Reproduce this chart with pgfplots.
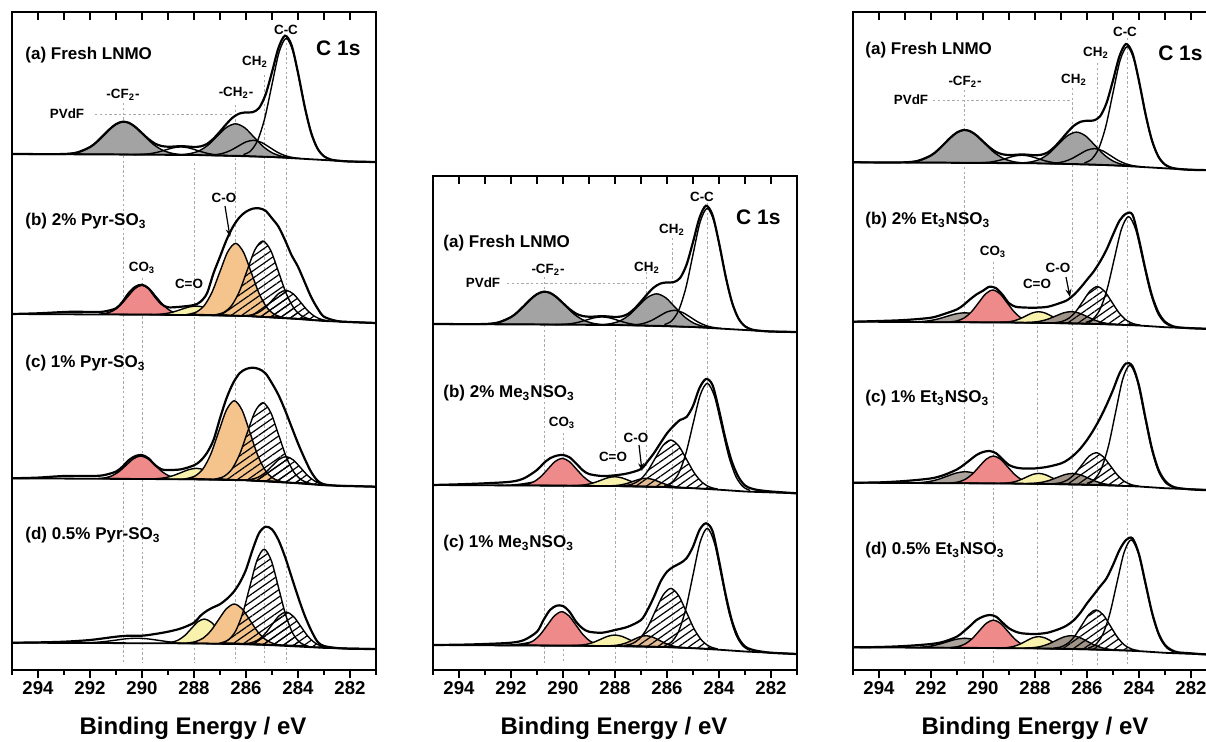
\documentclass[border=0pt]{standalone}
\usepackage{pgfplots}
\pgfplotsset{compat=1.18}
\usepackage{pgfplotstable}
\usepackage{fontspec}
\setmainfont{Liberation Sans}
\usetikzlibrary{patterns.meta,arrows.meta}
\definecolor{pvgray}{RGB}{163,163,163}
\definecolor{pinkc}{RGB}{239,138,138}
\definecolor{yellowc}{RGB}{248,242,172}
\definecolor{orangec}{RGB}{244,196,140}
\definecolor{taupec}{RGB}{170,162,155}
\definecolor{brownc}{RGB}{160,148,136}
\definecolor{midgc}{RGB}{180,160,152}
\definecolor{tanc}{RGB}{226,186,148}
\definecolor{dashc}{RGB}{170,170,170}
\newcommand{\plab}{\bfseries\fontsize{8.5}{9.5}\selectfont}
\newcommand{\klab}{\bfseries\fontsize{6.7}{7.5}\selectfont}
\newcommand{\clab}{\bfseries\fontsize{10.5}{12}\selectfont}
\newcommand{\xlab}{\bfseries\fontsize{12}{14}\selectfont}
\tikzset{dl/.style={dashc,line width=0.45pt,dash pattern=on 1.2pt off 1.2pt},
  pvd/.style={dashc,line width=0.45pt,dash pattern=on 1.2pt off 1.2pt},
  arr/.style={-{Stealth[length=4pt,width=3pt]},line width=0.6pt}}
\pgfplotsset{
  frame/.style={x=13pt,y=0.5pt,xmin=281,xmax=295,x dir=reverse,ymin=0,
    anchor=south west,clip=false,axis line style={line width=1pt},
    xtick={282,284,...,294},minor xtick={281,283,...,295},ytick=\empty,
    xtick pos=left,tick align=outside,major tick length=4pt,minor tick length=2.5pt,
    tick style={black,line width=0.8pt},
    xticklabel style={font=\bfseries\fontsize{9.3}{10}\selectfont,inner sep=1.5pt},
    /pgf/number format/assume math mode=true},
  spec/.style={x=13pt,y=0.5pt,xmin=281,xmax=295,x dir=reverse,ymin=-12,ymax=130,
    hide axis,anchor=south west,clip=false},
  comp/.style={smooth,line width=0.7pt,draw=black},
  env/.style={smooth,line width=1.1pt,draw=black},
  base/.style={line width=0.9pt,draw=black},
  hatch/.style={pattern={Lines[angle=35,distance=3pt,line width=0.6pt]}},
}
% ---- Fresh LNMO spectrum (a), heights in px above left baseline
\pgfplotstableread{
E y
292.95 0.1
292.575 1.1
292.2 4.1
291.825 10.25
291.45 19.5
291.075 28.5
290.7 32.4
290.325 28.4
289.95 19.3
289.575 9.9
289.2 3.7
288.825 0.6
288.45 -0.6
}\aCF
\pgfplotstableread{
E y
290.3 -0.58
290.0 -0.36
289.7 0.32
289.4 1.8
289.1 4.0
288.8 6.2
288.5 7.1
288.2 6.1
287.9 3.8
287.6 1.4
287.3 -0.27
287.0 -1.15
286.7 -1.56
}\aPtwo
\pgfplotstableread{
E y
288.5 -0.57
288.15 0.42
287.8 3.2
287.45 9.1
287.1 18.0
286.75 26.6
286.4 30.2
286.05 26.3
285.7 17.1
285.35 7.7
285.0 1.3
284.65 -2.1
284.3 -3.7
}\aCH
\pgfplotstableread{
E y
287.5 -1.07
287.2 -0.7
286.9 0.6
286.6 3.5
286.3 7.85
286.0 12.1
285.7 13.7
285.4 11.5
285.1 6.8
284.8 1.9
284.5 -1.6
284.2 -3.5
283.9 -4.5
}\aPfour
\pgfplotstableread{
E y
286.1 -0.6
285.825 3.0
285.55 13.75
285.275 36.1
285.0 69.5
284.725 102.1
284.45 115.7
284.175 101.25
283.9 67.85
283.625 33.7
283.35 10.7
283.075 -0.6
282.8 -5.0
}\aCC
\pgfplotstableread{
E y
295 0
288 -1
286 -2
285 -3
284 -4.5
283 -6
282 -7.5
281 -8
}\aBase
\pgfplotstableread{
E y
295 0
294 -0.1
293 0
292.5 1.5
292 6.9
291.75 11.9
291.5 18.2
291.25 24.7
291 29.9
290.75 32.3
290.5 31.2
290.25 26.9
290 20.9
289.75 15.0
289.5 10.4
289.25 8.0
289 7.3
288.75 7.5
288.5 7.9
288.25 7.5
288 7.05
287.75 7.6
287.5 10.05
287.25 15.4
287 22.5
286.75 30.1
286.5 36.7
286.25 40.5
286 41.6
285.75 41.8
285.5 45.9
285.25 59.2
285 81.9
284.75 106.2
284.5 118.3
284.25 109.0
284 81.3
283.75 48.3
283.5 21.7
283.25 5.5
283 -2.3
282.75 -5.4
282.5 -6.55
282 -7.5
281 -8
}\aEnv
\begin{document}
\begin{tikzpicture}
\useasboundingbox (0,0) rectangle (603pt,-370.5pt);
\clip (0,0) rectangle (603pt,-370.5pt);
% ================= LEFT COLUMN =================
\begin{axis}[frame,at={(6pt,-335pt)},ymax=658]
\draw[dl] (axis cs:290.7,567) -- (axis cs:290.7,7);
\draw[dl] (axis cs:290.0,392) -- (axis cs:290.0,7);
\draw[dl] (axis cs:288.0,507) -- (axis cs:288.0,7);
\draw[dl] (axis cs:286.4,565) -- (axis cs:286.4,7);
\draw[dl] (axis cs:285.3,595) -- (axis cs:285.3,7);
\draw[dl] (axis cs:284.45,632) -- (axis cs:284.45,7);
\pgfplotsinvokeforeach{282,...,294}{\draw[line width=0.8pt] (axis cs:#1,658) -- ++(0pt,-4pt);}
\end{axis}
% (a)
\begin{axis}[spec,at={(6pt,-83pt)}]
\addplot[comp,fill=pvgray] table {\aCF} -- cycle;
\addplot[comp,fill=pvgray] table {\aCH} -- cycle;
\addplot[comp] table {\aPtwo};
\addplot[comp] table {\aPfour};
\addplot[comp] table {\aCC};
\addplot[base] table {\aBase};
\addplot[env] table {\aEnv};
\end{axis}
% (b) 2% Pyr-SO3
\begin{axis}[spec,at={(6pt,-163pt)}]
\addplot[comp,fill=pinkc] coordinates {(291.65,-0.15)(291.375,0.78)(291.1,3.4)(290.825,9.0)(290.55,17.3)(290.275,25.3)(290.0,28.8)(289.725,25.25)(289.45,17.1)(289.175,8.75)(288.9,3.1)(288.625,0.39)(288.35,-0.62)} -- cycle;
\addplot[comp,fill=yellowc] coordinates {(289.7,-0.66)(289.4,-0.4)(289.1,0.38)(288.8,2.0)(288.5,4.5)(288.2,7.0)(287.9,7.95)(287.6,6.7)(287.3,4.1)(287.0,1.4)(286.7,-0.4)(286.4,-1.4)(286.1,-1.85)} -- cycle;
\addplot[comp,fill=orangec] coordinates {(288.2,-0.17)(287.9,2.1)(287.6,8.6)(287.3,22.2)(287.0,42.5)(286.7,62.3)(286.4,70.7)(286.1,62.0)(285.8,41.7)(285.5,20.8)(285.2,6.6)(284.9,-0.47)(284.6,-3.3)} -- cycle;
\addplot[comp,hatch] coordinates {(287.15,-0.6)(286.85,1.76)(286.55,8.55)(286.25,22.8)(285.95,44.0)(285.65,64.5)(285.35,73.0)(285.05,63.6)(284.75,42.2)(284.45,20.35)(284.15,5.5)(283.85,-1.96)(283.55,-5.06)} -- cycle;
\addplot[comp,hatch] coordinates {(286.1,-1.64)(285.825,-1.03)(285.55,1.1)(285.275,6.0)(285.0,13.5)(284.725,20.8)(284.45,23.7)(284.175,20.0)(283.9,11.8)(283.625,3.3)(283.35,-2.5)(283.075,-5.6)(282.8,-6.9)} -- cycle;
\addplot[base] coordinates {(295,0)(288,-1)(286,-2)(285,-3.5)(284,-5)(283,-7)(281,-9)};
\addplot[env] coordinates {(295,0)(294,0.7)(293,2)(292.5,2.3)(292,2)(291.5,2.3)(291,5.7)(290.75,12.3)(290.5,21.3)(290.25,27.3)(290,29.3)(289.75,25.7)(289.5,17.3)(289.25,10)(289,6.7)(288.5,7.3)(288,9)(287.75,12.3)(287.5,20.7)(287.25,40.7)(287,57.3)(286.75,74)(286.5,87.3)(286.25,96.7)(286,102.3)(285.75,105.3)(285.5,105.7)(285.25,103.3)(285,95.7)(284.75,87.3)(284.5,74)(284.25,59)(284,47.3)(283.75,32.3)(283.5,17.3)(283.25,5.7)(283,-2.7)(282.5,-7)(282,-8)(281,-9)};
\end{axis}
% (c) 1% Pyr-SO3
\begin{axis}[spec,at={(6pt,-245.15pt)}]
\addplot[comp,fill=pinkc] coordinates {(291.7,-0.21)(291.425,0.5)(291.15,2.56)(290.875,6.9)(290.6,13.3)(290.325,19.6)(290.05,22.3)(289.775,19.55)(289.5,13.2)(289.225,6.6)(288.95,2.25)(288.675,0.1)(288.4,-0.68)} -- cycle;
\addplot[comp,fill=yellowc] coordinates {(289.7,-0.64)(289.4,-0.32)(289.1,0.65)(288.8,2.7)(288.5,5.7)(288.2,8.7)(287.9,9.95)(287.6,8.5)(287.3,5.3)(287.0,2.1)(286.7,-0.16)(286.4,-1.3)(286.1,-1.8)} -- cycle;
\addplot[comp,fill=orangec] coordinates {(288.25,-0.08)(287.95,2.46)(287.65,9.56)(287.35,24.45)(287.05,46.7)(286.75,68.4)(286.45,77.6)(286.15,68.1)(285.85,45.9)(285.55,23.1)(285.25,7.6)(284.95,-0.1)(284.65,-3.15)} -- cycle;
\addplot[comp,hatch] coordinates {(287.15,-0.56)(286.85,1.87)(286.55,8.9)(286.25,23.6)(285.95,45.6)(285.65,66.8)(285.35,75.6)(285.05,65.9)(284.75,43.8)(284.45,21.2)(284.15,5.85)(283.85,-1.85)(283.55,-5.0)} -- cycle;
\addplot[comp,hatch] coordinates {(286.1,-1.66)(285.825,-1.12)(285.55,0.84)(285.275,5.3)(285.0,12.3)(284.725,19.0)(284.45,21.7)(284.175,18.2)(283.9,10.6)(283.625,2.7)(283.35,-2.8)(283.075,-5.7)(282.8,-6.85)} -- cycle;
\addplot[base] coordinates {(295,0)(288,-1)(286,-2)(285,-3.5)(284,-5)(283,-7)(281,-8.4)};
\addplot[env] coordinates {(295,0)(294,0.7)(293,2.3)(292,2.3)(291.5,3)(291,6.7)(290.75,11.7)(290.5,18.3)(290.25,22.3)(290,23.3)(289.75,20)(289.5,13.3)(289.25,9)(289,8.3)(288.5,9)(288,13)(287.75,17.5)(287.5,25.5)(287.25,38.3)(287,60)(286.75,80)(286.5,95)(286.25,105)(286,109.3)(285.75,110.6)(285.5,109.3)(285.25,105)(285,95)(284.75,83.3)(284.5,68.3)(284.25,51.6)(284,35)(283.75,20)(283.5,6.7)(283.25,-2.3)(283,-6)(282.5,-7.4)(282,-7.7)(281,-8.4)};
\end{axis}
% (d) 0.5% Pyr-SO3
\begin{axis}[spec,at={(6pt,-327.35pt)}]
\addplot[comp] coordinates {(292.6,-0.18)(292.2,-0.06)(291.8,0.36)(291.4,1.26)(291.0,2.6)(290.6,3.97)(290.2,4.5)(289.8,3.9)(289.4,2.5)(289.0,1.0)(288.6,0.04)(288.2,-0.5)(287.8,-0.72)};
\addplot[comp,fill=yellowc] coordinates {(289.1,-0.32)(288.85,0.47)(288.6,2.69)(288.35,7.3)(288.1,14.2)(287.85,20.95)(287.6,23.7)(287.35,20.75)(287.1,13.9)(286.85,6.8)(286.6,2.1)(286.35,-0.28)(286.1,-1.19)} -- cycle;
\addplot[comp,fill=orangec] coordinates {(288.25,-0.24)(287.95,1.04)(287.65,4.57)(287.35,12.0)(287.05,23.2)(286.75,34.1)(286.45,38.7)(286.15,33.9)(285.85,22.6)(285.55,11.0)(285.25,3.2)(284.95,-0.8)(284.65,-2.5)} -- cycle;
\addplot[comp,hatch] coordinates {(286.95,-0.06)(286.675,2.97)(286.4,11.6)(286.125,29.6)(285.85,56.4)(285.575,82.5)(285.3,93.5)(285.025,82.0)(284.75,55.2)(284.475,27.9)(284.2,9.4)(283.925,0.3)(283.65,-3.2)} -- cycle;
\addplot[comp,hatch] coordinates {(286.1,-1.0)(285.825,-0.2)(285.55,2.6)(285.275,8.7)(285.0,18.0)(284.725,27.0)(284.45,30.6)(284.175,26.3)(283.9,16.6)(283.625,6.6)(283.35,-0.13)(283.075,-3.6)(282.8,-4.9)} -- cycle;
\addplot[base] coordinates {(295,0)(288,-0.7)(286,-1.5)(285,-2.5)(284,-3.8)(283,-5.2)(281,-6.3)};
\addplot[env] coordinates {(295,0)(294,0.3)(293,1)(292,2.7)(291,6)(290.5,7)(290,7)(289.5,8.7)(289,11)(288.5,14.3)(288,20)(287.75,27)(287.5,32)(287.25,35.5)(287,38.5)(286.75,43.5)(286.5,50)(286.25,59.5)(286,73)(285.75,92.7)(285.5,109.5)(285.25,116)(285,113.3)(284.75,102.7)(284.5,86)(284.25,66)(284,46)(283.75,27.7)(283.5,12.7)(283.25,1)(283,-3.3)(282.5,-5.3)(282,-6)(281,-6.3)};
\end{axis}
% ================= MIDDLE COLUMN =================
\begin{axis}[frame,at={(216.5pt,-335pt)},ymax=494]
\draw[dl] (axis cs:290.7,393) -- (axis cs:290.7,7);
\draw[dl] (axis cs:290.0,237) -- (axis cs:290.0,7);
\draw[dl] (axis cs:288.0,340) -- (axis cs:288.0,7);
\draw[dl] (axis cs:286.8,398) -- (axis cs:286.8,7);
\draw[dl] (axis cs:285.8,432) -- (axis cs:285.8,7);
\draw[dl] (axis cs:284.45,467) -- (axis cs:284.45,7);
\pgfplotsinvokeforeach{282,...,294}{\draw[line width=0.8pt] (axis cs:#1,494) -- ++(0pt,-4pt);}
\end{axis}
\begin{axis}[spec,at={(216.5pt,-168pt)}]
\addplot[comp,fill=pvgray] table {\aCF} -- cycle;
\addplot[comp,fill=pvgray] table {\aCH} -- cycle;
\addplot[comp] table {\aPtwo};
\addplot[comp] table {\aPfour};
\addplot[comp] table {\aCC};
\addplot[base] table {\aBase};
\addplot[env] table {\aEnv};
\end{axis}
% (b) 2% Me3NSO3
\begin{axis}[spec,at={(216.5pt,-248.5pt)}]
\addplot[comp,fill=midgc] coordinates {(292.5,-0.31)(292.2,-0.2)(291.9,0.17)(291.6,0.97)(291.3,2.2)(291.0,3.4)(290.7,3.9)(290.4,3.3)(290.1,2.0)(289.8,0.72)(289.5,-0.18)(289.2,-0.63)(288.9,-0.82)} -- cycle;
\addplot[comp,fill=pinkc] coordinates {(291.68,-0.17)(291.405,0.69)(291.13,3.16)(290.855,8.3)(290.58,16.0)(290.305,23.5)(290.03,26.7)(289.755,23.4)(289.48,15.8)(289.205,8.1)(288.93,2.84)(288.655,0.29)(288.38,-0.65)} -- cycle;
\addplot[comp,fill=yellowc] coordinates {(289.65,-0.66)(289.375,-0.39)(289.1,0.42)(288.825,2.14)(288.55,4.7)(288.275,7.25)(288.0,8.3)(287.725,7.07)(287.45,4.36)(287.175,1.6)(286.9,-0.29)(286.625,-1.28)(286.35,-1.73)} -- cycle;
\addplot[comp,fill=tanc] coordinates {(288.3,-0.87)(288.05,-0.63)(287.8,0.02)(287.55,1.46)(287.3,3.68)(287.05,5.84)(286.8,6.7)(286.55,5.6)(286.3,3.18)(286.05,0.71)(285.8,-1.12)(285.55,-2.18)(285.3,-2.75)} -- cycle;
\addplot[comp,hatch] coordinates {(287.65,-0.66)(287.35,0.74)(287.05,4.9)(286.75,13.7)(286.45,26.85)(286.15,39.7)(285.85,45.0)(285.55,39.1)(285.25,25.7)(284.95,12.05)(284.65,2.66)(284.35,-2.1)(284.05,-4.1)} -- cycle;
\addplot[comp] coordinates {(286.1,-0.78)(285.825,2.43)(285.55,11.76)(285.275,31.45)(285.0,60.9)(284.725,89.7)(284.45,101.7)(284.175,88.8)(283.9,59.2)(283.625,28.9)(283.35,8.4)(283.075,-1.7)(282.8,-5.5)};
\addplot[base] coordinates {(295,0)(288,-1)(286,-2)(285,-3.2)(284,-4.7)(283,-6.5)(281,-8.3)};
\addplot[env] coordinates {(295,0)(294,0.7)(293,1.7)(292,3.3)(291.5,6.7)(291,15)(290.75,21.7)(290.5,26.7)(290.25,29.3)(290,30)(289.75,27.7)(289.5,21.7)(289.25,15)(289,11)(288.5,9)(288,9.7)(287.5,11.7)(287,16)(286.75,23.5)(286.5,32)(286.25,42)(286,51.7)(285.75,59)(285.5,65)(285.25,68)(285,79)(284.75,97)(284.5,106)(284.25,100)(284,75)(283.75,46)(283.5,23)(283.25,8)(283,-0.5)(282.75,-3.5)(282.5,-5)(282,-6.5)(281,-8.3)};
\end{axis}
% (c) 1% Me3NSO3
\begin{axis}[spec,at={(216.5pt,-328.5pt)}]
\addplot[comp,fill=midgc] coordinates {(292.5,-0.3)(292.2,-0.18)(291.9,0.24)(291.6,1.13)(291.3,2.5)(291.0,3.84)(290.7,4.39)(290.4,3.75)(290.1,2.33)(289.8,0.88)(289.5,-0.11)(289.2,-0.61)(288.9,-0.81)} -- cycle;
\addplot[comp,fill=pinkc] coordinates {(291.7,-0.09)(291.425,0.98)(291.15,4.05)(290.875,10.45)(290.6,20.0)(290.325,29.3)(290.05,33.3)(289.775,29.25)(289.5,19.8)(289.225,10.2)(288.95,3.74)(288.675,0.59)(288.4,-0.56)} -- cycle;
\addplot[comp,fill=yellowc] coordinates {(289.65,-0.64)(289.375,-0.32)(289.1,0.65)(288.825,2.69)(288.55,5.75)(288.275,8.75)(288.0,10)(287.725,8.57)(287.45,5.39)(287.175,2.16)(286.9,-0.06)(286.625,-1.21)(286.35,-1.71)} -- cycle;
\addplot[comp,fill=tanc] coordinates {(288.3,-0.84)(288.05,-0.51)(287.8,0.37)(287.55,2.31)(287.3,5.26)(287.05,8.14)(286.8,9.3)(286.55,7.89)(286.3,4.76)(286.05,1.56)(285.8,-0.77)(285.55,-2.06)(285.3,-2.72)} -- cycle;
\addplot[comp,hatch] coordinates {(287.65,-0.53)(287.35,1.25)(287.05,6.48)(286.75,17.46)(286.45,33.9)(286.15,49.96)(285.85,56.6)(285.55,49.35)(285.25,32.76)(284.95,15.8)(284.65,4.23)(284.35,-1.6)(284.05,-3.98)} -- cycle;
\addplot[comp] coordinates {(286.1,-0.61)(285.825,3.09)(285.55,13.8)(285.275,36.3)(285.0,70.0)(284.725,102.9)(284.45,116.7)(284.175,102.05)(283.9,68.3)(283.625,33.8)(283.35,10.46)(283.075,-1.1)(282.8,-5.4)};
\addplot[base] coordinates {(295,0)(288,-1)(286,-2)(285,-3.2)(284,-4.7)(283,-6.5)(281,-9)};
\addplot[env] coordinates {(295,0)(294,0.3)(293,1)(292,2.3)(291.5,5)(291,13.3)(290.75,25)(290.5,35)(290.25,39.3)(290,39)(289.75,33.3)(289.5,23.3)(289.25,16.7)(289,13.3)(288.5,12.3)(288,15)(287.5,18.3)(287,25)(286.75,35)(286.5,48.3)(286.25,63.3)(286,73.3)(285.75,78.3)(285.5,81.7)(285.25,86.7)(285,98.3)(284.75,115)(284.5,121.7)(284.25,114)(284,84.5)(283.75,51)(283.5,24)(283.25,7)(283,-1.5)(282.75,-4.5)(282.5,-6)(282,-7.75)(281,-9)};
\end{axis}
% ================= RIGHT COLUMN =================
\begin{axis}[frame,at={(426.5pt,-335pt)},ymax=658]
\draw[dl] (axis cs:290.7,580) -- (axis cs:290.7,5);
\draw[dl] (axis cs:289.6,408) -- (axis cs:289.6,5);
\draw[dl] (axis cs:287.9,378) -- (axis cs:287.9,5);
\draw[dl] (axis cs:286.55,582) -- (axis cs:286.55,5);
\draw[dl] (axis cs:285.6,607) -- (axis cs:285.6,5);
\draw[dl] (axis cs:284.45,632) -- (axis cs:284.45,5);
\pgfplotsinvokeforeach{282,...,294}{\draw[line width=0.8pt] (axis cs:#1,658) -- ++(0pt,-4pt);}
\end{axis}
\begin{axis}[spec,at={(426.5pt,-87.15pt)}]
\addplot[comp,fill=pvgray] table {\aCF} -- cycle;
\addplot[comp,fill=pvgray] table {\aCH} -- cycle;
\addplot[comp] table {\aPtwo};
\addplot[comp] table {\aPfour};
\addplot[comp] table {\aCC};
\addplot[base] table {\aBase};
\addplot[env] table {\aEnv};
\end{axis}
% (b) 2% Et3NSO3
\begin{axis}[spec,at={(426.5pt,-166.85pt)}]
\addplot[comp,fill=taupec] coordinates {(292.8,-0.2)(292.45,0.06)(292.1,0.88)(291.75,2.62)(291.4,5.25)(291.05,7.82)(290.7,8.89)(290.35,7.72)(290.0,5.05)(289.65,2.32)(289.3,0.48)(288.95,-0.44)(288.6,-0.8)} -- cycle;
\addplot[comp,fill=pinkc] coordinates {(291.27,-0.17)(290.995,0.86)(290.72,3.79)(290.445,9.9)(290.17,19.0)(289.895,27.95)(289.62,31.7)(289.345,27.87)(289.07,18.86)(288.795,9.66)(288.52,3.47)(288.245,0.47)(287.97,-0.66)} -- cycle;
\addplot[comp,fill=yellowc] coordinates {(289.35,-0.69)(289.1,-0.35)(288.85,0.62)(288.6,2.69)(288.35,5.78)(288.1,8.81)(287.85,10.0)(287.6,8.6)(287.35,5.4)(287.1,2.15)(286.85,-0.08)(286.6,-1.21)(286.35,-1.71)} -- cycle;
\addplot[comp,fill=brownc] coordinates {(288.4,-0.81)(288.1,-0.47)(287.8,0.5)(287.5,2.58)(287.2,5.76)(286.9,8.86)(286.6,10.1)(286.3,8.56)(286.0,5.16)(285.7,1.59)(285.4,-0.88)(285.1,-2.2)(284.8,-2.87)} -- cycle;
\addplot[comp,hatch] coordinates {(287.25,-0.96)(286.975,0.13)(286.7,3.41)(286.425,10.35)(286.15,20.75)(285.875,30.9)(285.6,35.1)(285.325,30.46)(285.05,19.92)(284.775,9.11)(284.5,1.76)(284.225,-1.94)(283.95,-3.47)} -- cycle;
\addplot[comp] coordinates {(286.05,-0.76)(285.775,2.58)(285.5,12.28)(285.225,32.6)(284.95,62.95)(284.675,92.6)(284.4,105.1)(284.125,92.07)(283.85,61.74)(283.575,30.7)(283.3,9.69)(283.025,-0.7)(282.75,-4.55)};
\addplot[base] coordinates {(295,0)(288,-1)(286,-2)(285,-2.8)(284,-3.8)(283,-5.5)(281,-7.5)};
\addplot[env] coordinates {(295,0)(294,0.7)(293,1.7)(292,4)(291.5,7.7)(291,12.3)(290.75,16.7)(290.5,22.3)(290.25,27.3)(290,31)(289.75,35)(289.5,33.5)(289.25,27)(289,18.5)(288.75,15)(288.5,14.3)(288,14)(287.5,15)(287,19)(286.75,21.7)(286.5,27)(286.25,34)(286,42)(285.75,50)(285.5,60)(285.25,72)(285,87)(284.75,101)(284.5,108)(284.25,107)(284,82)(283.75,52)(283.5,26)(283.25,9)(283,0)(282.75,-4)(282.5,-5.6)(282,-6.5)(281.5,-7)(281,-7.5)};
\end{axis}
% (c) 1% Et3NSO3
\begin{axis}[spec,at={(426.5pt,-247.35pt)}]
\addplot[comp,fill=taupec] coordinates {(292.78,-0.19)(292.43,0.14)(292.08,1.15)(291.73,3.3)(291.38,6.52)(291.03,9.67)(290.68,10.98)(290.33,9.57)(289.98,6.32)(289.63,3.0)(289.28,0.75)(288.93,-0.36)(288.58,-0.79)} -- cycle;
\addplot[comp,fill=pinkc] coordinates {(291.25,-0.23)(290.975,0.64)(290.7,3.11)(290.425,8.28)(290.15,15.99)(289.875,23.54)(289.6,26.73)(289.325,23.46)(289.05,15.83)(288.775,8.04)(288.5,2.79)(288.225,0.24)(287.95,-0.72)} -- cycle;
\addplot[comp,fill=yellowc] coordinates {(289.35,-0.69)(289.1,-0.38)(288.85,0.53)(288.6,2.47)(288.35,5.36)(288.1,8.19)(287.85,9.32)(287.6,7.98)(287.35,4.98)(287.1,1.93)(286.85,-0.17)(286.6,-1.24)(286.35,-1.71)} -- cycle;
\addplot[comp,fill=brownc] coordinates {(288.35,-0.83)(288.05,-0.52)(287.75,0.36)(287.45,2.29)(287.15,5.24)(286.85,8.13)(286.55,9.27)(286.25,7.83)(285.95,4.63)(285.65,1.29)(285.35,-1.03)(285.05,-2.28)(284.75,-2.93)} -- cycle;
\addplot[comp,hatch] coordinates {(287.3,-0.99)(287.025,-0.07)(286.75,2.74)(286.475,8.73)(286.2,17.69)(285.925,26.44)(285.65,30.02)(285.375,26.0)(285.1,16.87)(284.825,7.51)(284.55,1.12)(284.275,-2.11)(284.0,-3.44)} -- cycle;
\addplot[comp] coordinates {(286.0,-0.66)(285.725,3.09)(285.45,13.93)(285.175,36.63)(284.9,70.49)(284.625,103.6)(284.35,117.55)(284.075,103.05)(283.8,69.25)(283.525,34.68)(283.25,11.29)(282.975,-0.22)(282.7,-4.46)};
\addplot[base] coordinates {(295,0)(288,-1)(286,-2)(285,-2.8)(284,-3.8)(283,-5.5)(281,-7.5)};
\addplot[env] coordinates {(295,0)(294,0.3)(293,1.7)(292,4.3)(291.5,7.7)(291,13.3)(290.75,17.7)(290.5,22.7)(290.25,27.7)(290,30.7)(289.75,31.7)(289.5,29.5)(289.25,23.5)(289,17.7)(288.75,15.3)(288.5,14.3)(288,14.3)(287.5,16)(287,19.3)(286.75,22.7)(286.5,27.7)(286.25,34.3)(286,42.7)(285.75,52.7)(285.5,64.3)(285.25,77.7)(285,92.7)(284.75,109.3)(284.5,119.3)(284.25,116.5)(284,97)(283.75,64.5)(283.5,34)(283.25,13)(283,2)(282.75,-3.3)(282.5,-5.3)(282,-6.7)(281.5,-7.3)(281,-7.5)};
\end{axis}
% (d) 0.5% Et3NSO3
\begin{axis}[spec,at={(426.5pt,-329.65pt)}]
\addplot[comp,fill=taupec] coordinates {(292.8,-0.2)(292.45,0.06)(292.1,0.89)(291.75,2.66)(291.4,5.31)(291.05,7.91)(290.7,8.99)(290.35,7.81)(290.0,5.11)(289.65,2.36)(289.3,0.49)(288.95,-0.44)(288.6,-0.8)} -- cycle;
\addplot[comp,fill=pinkc] coordinates {(291.25,-0.23)(290.975,0.66)(290.7,3.18)(290.425,8.44)(290.15,16.29)(289.875,23.98)(289.6,27.23)(289.325,23.9)(289.05,16.13)(288.775,8.2)(288.5,2.86)(288.225,0.26)(287.95,-0.72)} -- cycle;
\addplot[comp,fill=yellowc] coordinates {(289.35,-0.68)(289.1,-0.32)(288.85,0.72)(288.6,2.92)(288.35,6.21)(288.1,9.42)(287.85,10.72)(287.6,9.21)(287.35,5.83)(287.1,2.38)(286.85,0.02)(286.6,-1.18)(286.35,-1.7)} -- cycle;
\addplot[comp,fill=brownc] coordinates {(288.4,-0.79)(288.1,-0.4)(287.8,0.71)(287.5,3.1)(287.2,6.73)(286.9,10.28)(286.6,11.7)(286.3,9.98)(286.0,6.13)(285.7,2.11)(285.4,-0.67)(285.1,-2.13)(284.8,-2.85)} -- cycle;
\addplot[comp,hatch] coordinates {(287.3,-0.91)(287.025,0.25)(286.75,3.73)(286.475,11.1)(286.2,22.12)(285.925,32.89)(285.65,37.32)(285.375,32.45)(285.1,21.3)(284.825,9.88)(284.55,2.11)(284.275,-1.79)(284.0,-3.36)} -- cycle;
\addplot[comp] coordinates {(285.95,-0.81)(285.675,2.61)(285.4,12.54)(285.125,33.34)(284.85,64.37)(284.575,94.73)(284.3,107.5)(284.025,94.18)(283.75,63.09)(283.475,31.35)(283.2,9.86)(282.925,-0.71)(282.65,-4.62)};
\addplot[base] coordinates {(295,0)(288,-1)(286,-2)(285,-2.8)(284,-3.8)(283,-5.5)(281,-7.5)};
\addplot[env] coordinates {(295,0)(294,0.3)(293,1.3)(292,3.3)(291.5,5.7)(291,10.7)(290.75,15.7)(290.5,21.3)(290.25,27.3)(290,30.7)(289.75,32.3)(289.5,30.7)(289.25,24.7)(289,19)(288.75,15.7)(288.5,14)(288,13.3)(287.5,14.7)(287,19)(286.75,22.3)(286.5,27.3)(286.25,34.7)(286,44)(285.75,52.3)(285.5,60.7)(285.25,69)(285,82.3)(284.75,97.3)(284.5,107.3)(284.25,109)(284,93)(283.75,64)(283.5,35)(283.25,14)(283,2.3)(282.75,-2.7)(282.5,-5)(282,-6)(281.5,-7)(281,-7.5)};
\end{axis}
% ================= LABELS (pixel coordinates) =================
\begin{scope}[x=0.5pt,y=-0.5pt,every node/.style={inner sep=0pt}]
% left
\node[anchor=west] at (25,55) {\plab (a) Fresh LNMO};
\node[anchor=east] at (361,48) {\clab C 1s};
\node at (286,30) {\klab C-C};
\node at (255,62) {\klab CH\textsubscript{2}};
\node at (236,93) {\klab -CH\textsubscript{2}-};
\node at (123,95) {\klab -CF\textsubscript{2}-};
\node at (67,114) {\klab PVdF};
\draw[pvd] (95,114) -- (233,114);
\node[anchor=west] at (25,221) {\plab (b) 2\% Pyr-SO\textsubscript{3}};
\node at (224,198) {\klab C-O};
\draw[arr] (225,206) -- (230,237);
\node at (142,268) {\klab CO\textsubscript{3}};
\node at (189,284) {\klab C=O};
\node[anchor=west] at (25,363) {\plab (c) 1\% Pyr-SO\textsubscript{3}};
\node[anchor=west] at (25,535) {\plab (d) 0.5\% Pyr-SO\textsubscript{3}};
\node at (193,728) {\xlab Binding Energy / eV};
% middle
\node[anchor=west] at (443,243) {\plab (a) Fresh LNMO};
\node[anchor=east] at (781,217) {\clab C 1s};
\node at (702,197) {\klab C-C};
\node at (672,230) {\klab CH\textsubscript{2}};
\node at (647,268) {\klab CH\textsubscript{2}};
\node at (548,270) {\klab -CF\textsubscript{2}-};
\node at (483,283) {\klab PVdF};
\draw[pvd] (507,283) -- (645,283);
\node[anchor=west] at (443,393) {\plab (b) 2\% Me\textsubscript{3}NSO\textsubscript{3}};
\node at (562,423) {\klab CO\textsubscript{3}};
\node at (636,438) {\klab C-O};
\draw[arr] (639,445) -- (642,471);
\node[fill=white,inner sep=0.5pt] at (613,457) {\klab C=O};
\node[anchor=west] at (443,543) {\plab (c) 1\% Me\textsubscript{3}NSO\textsubscript{3}};
\node at (614,728) {\xlab Binding Energy / eV};
% right
\node[anchor=west] at (865,50) {\plab (a) Fresh LNMO};
\node[anchor=east] at (1203,53) {\clab C 1s};
\node at (1125,32) {\klab C-C};
\node at (1096,53) {\klab CH\textsubscript{2}};
\node at (1074,80) {\klab CH\textsubscript{2}};
\node at (965,82) {\klab -CF\textsubscript{2}-};
\node at (911,100) {\klab PVdF};
\draw[pvd] (933,100) -- (1070,100);
\node[anchor=west] at (865,220) {\plab (b) 2\% Et\textsubscript{3}NSO\textsubscript{3}};
\node at (993,252) {\klab CO\textsubscript{3}};
\node at (1058,268) {\klab C-O};
\draw[arr] (1066,277) -- (1070,297);
\node at (1037,284) {\klab C=O};
\node[anchor=west] at (865,398) {\plab (c) 1\% Et\textsubscript{3}NSO\textsubscript{3}};
\node[anchor=west] at (865,550) {\plab (d) 0.5\% Et\textsubscript{3}NSO\textsubscript{3}};
\node at (1035,728) {\xlab Binding Energy / eV};
\end{scope}
\end{tikzpicture}
\end{document}
